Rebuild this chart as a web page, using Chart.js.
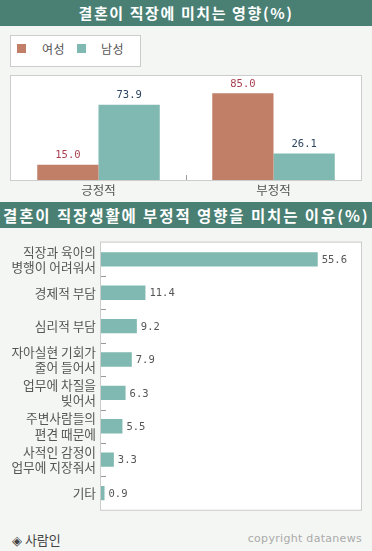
<!DOCTYPE html>
<html>
<head>
<meta charset="utf-8">
<script src="https://cdn.jsdelivr.net/npm/chart.js@4/dist/chart.umd.min.js"></script>
<style>
  body { margin:0; background:#f4f6f3; font-family:"Noto Sans CJK KR", sans-serif; }
  #wrap { position:relative; width:372px; height:551px; overflow:hidden; background:#f4f6f3; }
  .bar { position:absolute; left:0; width:372px; height:26px; background:#4a8074; color:#fff;
         font-size:15px; font-weight:bold; line-height:26px; white-space:nowrap; }
  #t1 { top:0; text-align:center; letter-spacing:1.6px; }
  #t2 { top:202px; padding-left:3px; width:369px; letter-spacing:1.9px; font-size:15.5px; }
  #legend { position:absolute; left:10px; top:35px; width:129px; height:30px; background:#fff; border:1px solid #ccc; font-size:12px; color:#555; }
  .sw { position:absolute; top:8px; width:9px; height:9px; }
  .lt { position:absolute; top:5px; line-height:15px; letter-spacing:0.5px; }
  canvas { position:absolute; left:0; }
  #c1 { top:70px; }
  #c2 { top:230px; }
  #src { position:absolute; left:12px; top:530px; font-size:13px; color:#444; }
  #copy { position:absolute; right:10px; top:532px; font-size:11px; color:#aaa; font-family:"DejaVu Sans", sans-serif; letter-spacing:0.3px; }
</style>
</head>
<body>
<div id="wrap">
  <div class="bar" id="t1">결혼이 직장에 미치는 영향(%)</div>
  <div id="legend">
    <div class="sw" style="left:6px;background:#c27f67"></div><div class="lt" style="left:31px">여성</div>
    <div class="sw" style="left:66px;background:#7fb9b1"></div><div class="lt" style="left:90px">남성</div>
  </div>
  <canvas id="c1" width="372" height="130"></canvas>
  <div class="bar" id="t2">결혼이 직장생활에 부정적 영향을 미치는 이유(%)</div>
  <canvas id="c2" width="372" height="300"></canvas>
  <div id="src">◈ 사람인</div>
  <div id="copy">copyright datanews</div>
</div>
<script>
// chart 1 data
var effect_labels = ['긍정적', '부정적'];
var female_values = [15.0, 85.0];
var male_values = [73.9, 26.1];

// chart 2 data
var reason_labels = [
    ['직장과 육아의', '병행이 어려워서'],
    '경제적 부담',
    '심리적 부담',
    ['자아실현 기회가', '줄어 들어서'],
    ['업무에 차질을', '빚어서'],
    ['주변사람들의', '편견 때문에'],
    ['사적인 감정이', '업무에 지장줘서'],
    '기타'
];
var reason_values = [55.6, 11.4, 9.2, 7.9, 6.3, 5.5, 3.3, 0.9];

var FEMALE = '#c27f67';
var MALE = '#7fb9b1';
var monoFont = '10.5px "DejaVu Sans Mono", monospace';

// white plot box with gray border
var boxPlugin = {
    id: 'box',
    beforeDraw: function(chart) {
        var a = chart.chartArea, ctx = chart.ctx;
        ctx.save();
        ctx.fillStyle = '#fff';
        ctx.fillRect(a.left, a.top, a.right - a.left, a.bottom - a.top);
        ctx.restore();
    },
    afterDraw: function(chart) {
        var a = chart.chartArea, ctx = chart.ctx;
        ctx.save();
        ctx.strokeStyle = '#cccccc';
        ctx.lineWidth = 1;
        ctx.strokeRect(a.left - 0.5, a.top - 0.5, a.right - a.left + 1, a.bottom - a.top + 1);
        ctx.restore();
    }
};

var valuePlugin1 = {
    id: 'values1',
    afterDatasetsDraw: function(chart) {
        var ctx = chart.ctx;
        ctx.save();
        ctx.font = monoFont;
        ctx.textAlign = 'center';
        ctx.textBaseline = 'bottom';
        var colors = ['#a8404f', '#2c4460'];
        chart.data.datasets.forEach(function(ds, di) {
            chart.getDatasetMeta(di).data.forEach(function(bar, i) {
                ctx.fillStyle = colors[di];
                ctx.fillText(ds.data[i].toFixed(1), bar.x, bar.y - 4);
            });
        });
        // middle tick at bottom
        var xs = chart.scales.x;
        var mx = Math.round((xs.getPixelForValue(0) + xs.getPixelForValue(1)) / 2) + 0.5;
        ctx.strokeStyle = '#999';
        ctx.beginPath();
        ctx.moveTo(mx, chart.chartArea.bottom - 5);
        ctx.lineTo(mx, chart.chartArea.bottom);
        ctx.stroke();
        ctx.restore();
    }
};

new Chart(document.getElementById('c1'), {
    type: 'bar',
    data: {
        labels: effect_labels,
        datasets: [
            { label: '여성', data: female_values, backgroundColor: FEMALE },
            { label: '남성', data: male_values, backgroundColor: MALE }
        ]
    },
    options: {
        responsive: false,
        animation: false,
        layout: { padding: { left: 11, right: 11, top: 6, bottom: 0 } },
        datasets: { bar: { categoryPercentage: 0.70, barPercentage: 1.0 } },
        scales: {
            x: {
                grid: { display: false, drawTicks: false },
                border: { display: false },
                ticks: { color: '#555', padding: 3, font: { family: '"Noto Sans CJK KR"', size: 12.5 } },
                afterFit: function(s) { s.height = 20; }
            },
            y: { display: false, min: 0, max: 102 }
        },
        plugins: { legend: { display: false }, tooltip: { enabled: false } }
    },
    plugins: [boxPlugin, valuePlugin1]
});

var valuePlugin2 = {
    id: 'values2',
    afterDatasetsDraw: function(chart) {
        var ctx = chart.ctx;
        ctx.save();
        ctx.font = monoFont;
        ctx.fillStyle = '#555';
        ctx.textAlign = 'left';
        ctx.textBaseline = 'middle';
        var ds = chart.data.datasets[0];
        chart.getDatasetMeta(0).data.forEach(function(bar, i) {
            ctx.fillText(ds.data[i].toFixed(1), bar.x + 4, bar.y + 1);
        });
        // short ticks between categories
        var ys = chart.scales.y, left = chart.chartArea.left;
        ctx.strokeStyle = '#999';
        for (var i = 0; i < ds.data.length - 1; i++) {
            var y = Math.round((ys.getPixelForValue(i) + ys.getPixelForValue(i + 1)) / 2) + 0.5;
            ctx.beginPath();
            ctx.moveTo(left, y);
            ctx.lineTo(left + 5, y);
            ctx.stroke();
        }
        ctx.restore();
    }
};

new Chart(document.getElementById('c2'), {
    type: 'bar',
    data: {
        labels: reason_labels,
        datasets: [{ label: '이유', data: reason_values, backgroundColor: MALE }]
    },
    options: {
        indexAxis: 'y',
        responsive: false,
        animation: false,
        layout: { padding: { left: 0, right: 11, top: 7, bottom: 13 } },
        datasets: { bar: { categoryPercentage: 1.0, barPercentage: 0.43 } },
        scales: {
            x: { display: false, min: 0, max: 66.7 },
            y: {
                grid: { display: false, drawTicks: false },
                border: { display: false },
                ticks: { color: '#555', padding: 5, font: { family: '"Noto Sans CJK KR"', size: 12.7, lineHeight: 1.2 } },
                afterFit: function(s) { s.width = 101; }
            }
        },
        plugins: { legend: { display: false }, tooltip: { enabled: false } }
    },
    plugins: [boxPlugin, valuePlugin2]
});
</script>
</body>
</html>
